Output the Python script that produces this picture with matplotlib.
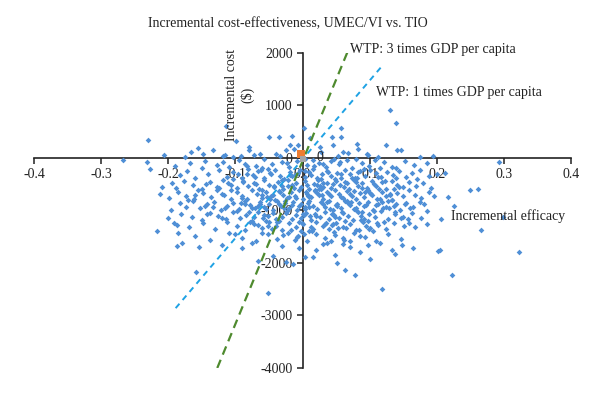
import numpy as np
import matplotlib
matplotlib.use("Agg")
import matplotlib.pyplot as plt

plt.rcParams['font.family'] = ['Liberation Serif', 'DejaVu Serif']

# simulated incremental efficacy / cost pairs
eff = [
    # above zero
    -0.230, -0.114, -0.099, -0.155, -0.133, -0.166, -0.149, -0.118, -0.115, -0.104,
    -0.080, -0.079, -0.072, -0.063, -0.050, -0.035, -0.015, -0.019, -0.025, -0.012,
    -0.007, -0.040, -0.033, 0.130, 0.140, 0.058, 0.002, 0.044, 0.058, 0.046,
    0.081, 0.082, 0.124, 0.141, 0.146, 0.194, 0.026, 0.096, 0.097, 0.028,
    0.060, 0.068, 0.053, 0.011, -0.268, -0.207, -0.175, -0.092, 0.112, 0.175,
    # 0 to -200
    -0.231, -0.168, -0.190, -0.145, -0.128, -0.110, -0.095, -0.085, -0.070, -0.058,
    -0.045, -0.030, -0.020, -0.008, 0.006, 0.015, 0.024, 0.035, 0.042, 0.055,
    0.066, 0.074, 0.088, 0.099, 0.108, 0.121, 0.133, 0.152, 0.166, 0.185,
    0.212, -0.060, 0.004, 0.047, 0.292, -0.150, 0.080, -0.118, 0.030, 0.140,
    # -200 to -400
    -0.227, -0.183, -0.172, -0.160, -0.141, -0.125, -0.112, -0.103, -0.090, -0.081,
    -0.074, -0.066, -0.058, -0.049, -0.041, -0.033, -0.027, -0.019, -0.011, -0.004,
    0.003, 0.009, 0.016, 0.022, 0.029, 0.036, 0.043, 0.051, 0.058, 0.064,
    0.071, 0.078, 0.086, 0.093, 0.101, 0.109, 0.117, 0.126, 0.135, 0.144,
    0.154, 0.163, 0.175, 0.188, 0.201, -0.096, 0.012, 0.048, 0.083, -0.052,
    # -400 to -600
    -0.209, -0.195, -0.188, -0.176, -0.163, -0.150, -0.138, -0.127, -0.118, -0.106,
    -0.098, -0.089, -0.081, -0.073, -0.065, -0.058, -0.050, -0.043, -0.036, -0.029,
    -0.022, -0.015, -0.009, -0.002, 0.004, 0.010, 0.017, 0.023, 0.030, 0.037,
    0.043, 0.050, 0.056, 0.063, 0.069, 0.076, 0.082, 0.089, 0.096, 0.103,
    0.110, 0.118, 0.125, 0.133, 0.141, 0.150, 0.159, 0.169, 0.180, 0.192,
    -0.070, -0.031, 0.007, 0.045, 0.079, 0.114, -0.111, -0.144, 0.027, 0.062,
    # -600 to -800
    -0.213, -0.199, -0.186, -0.173, -0.161, -0.149, -0.137, -0.127, -0.117, -0.107,
    -0.098, -0.090, -0.082, -0.075, -0.068, -0.061, -0.054, -0.047, -0.041, -0.035,
    -0.029, -0.023, -0.017, -0.011, -0.005, 0.001, 0.007, 0.013, 0.019, 0.025,
    0.031, 0.037, 0.043, 0.049, 0.055, 0.061, 0.067, 0.073, 0.079, 0.085,
    0.091, 0.097, 0.104, 0.111, 0.118, 0.125, 0.133, 0.141, 0.149, 0.158,
    0.167, 0.177, 0.188, 0.216, 0.250, 0.262, -0.060, 0.010, 0.070, -0.120,
    0.040, -0.020, 0.100, 0.130, -0.090, -0.044, 0.022, 0.058, -0.160, 0.005,
    # -800 to -1000
    -0.196, -0.183, -0.173, -0.163, -0.152, -0.142, -0.132, -0.122, -0.112, -0.103,
    -0.094, -0.086, -0.078, -0.071, -0.064, -0.057, -0.050, -0.044, -0.038, -0.032,
    -0.026, -0.020, -0.014, -0.008, -0.002, 0.004, 0.010, 0.016, 0.022, 0.028,
    0.034, 0.040, 0.046, 0.052, 0.058, 0.064, 0.070, 0.077, 0.084, 0.091,
    0.098, 0.105, 0.112, 0.120, 0.128, 0.136, 0.145, 0.154, 0.164, 0.175,
    0.185, 0.226, -0.115, -0.067, -0.005, 0.030, 0.068, 0.110, 0.140, -0.145,
    0.080, 0.008, -0.035, 0.050, -0.085, 0.125, -0.015, 0.160, -0.055, 0.095,
    # -1000 to -1200
    -0.200, -0.191, -0.181, -0.165, -0.150, -0.138, -0.126, -0.114, -0.103, -0.093,
    -0.084, -0.075, -0.067, -0.059, -0.051, -0.044, -0.037, -0.030, -0.023, -0.016,
    -0.009, -0.002, 0.005, 0.012, 0.019, 0.026, 0.033, 0.040, 0.047, 0.054,
    0.061, 0.068, 0.075, 0.083, 0.091, 0.099, 0.108, 0.117, 0.127, 0.138,
    0.150, 0.163, 0.177, 0.206, -0.072, 0.000, 0.044, 0.087, -0.120, 0.020,
    # -1200 to -1400
    -0.217, -0.187, -0.169, -0.148, -0.130, -0.113, -0.098, -0.085, -0.072, -0.061,
    -0.050, -0.040, -0.030, -0.020, -0.010, 0.000, 0.010, 0.020, 0.030, 0.040,
    0.050, 0.060, 0.070, 0.080, 0.090, 0.101, 0.112, 0.124, 0.137, 0.151,
    0.167, 0.266, -0.035, 0.015, 0.065, -0.078, 0.105, 0.035, -0.005, 0.185,
    # -1400 to -1600
    -0.160, -0.138, -0.110, -0.090, -0.070, -0.052, -0.038, -0.022, -0.008, 0.006,
    0.020, 0.034, 0.048, 0.062, 0.077, 0.093, 0.110, 0.128, 0.146, -0.185,
    0.042, -0.060, 0.085, 0.002, -0.100,
    # -1600 to -2000
    -0.187, -0.180, -0.154, -0.120, -0.090, -0.066, -0.044, -0.024, -0.014, 0.004,
    0.016, 0.048, 0.052, 0.086, 0.101, 0.098, 0.133, 0.138, 0.148, 0.164,
    0.202, 0.205, 0.030, -0.030, 0.070, 0.115, -0.005, 0.060, -0.075, 0.020,
    # tail
    -0.158, -0.052, 0.064, 0.078, 0.119, 0.222, 0.322, 0.298,
    # dense core
    -0.088, -0.061, -0.047, -0.026, -0.013, 0.008, 0.031, 0.052, 0.074, 0.093,
    0.115, -0.104, -0.079, -0.053, -0.038, -0.018, 0.002, 0.024, 0.046, 0.067,
    0.087, 0.106, 0.129, -0.066, -0.042, -0.028, -0.006, 0.013, 0.037, 0.059,
    0.081, 0.102, 0.121, 0.143, -0.092, -0.057, -0.034, -0.017, 0.004, 0.027,
    0.049, 0.072, 0.094, 0.113, 0.134, -0.076, -0.045, -0.021, -0.001, 0.018,
    0.041, 0.063, 0.088, 0.107, 0.131, 0.152, -0.083, -0.055, -0.031, -0.010,
    0.011, 0.033, 0.057, 0.079, 0.099, 0.123, 0.147, -0.107, -0.064, -0.039,
    -0.016, 0.009, 0.029, 0.053, 0.076, 0.097, 0.119, 0.139, -0.097, -0.071,
    -0.049, -0.024, -0.003, 0.021, 0.044, 0.066, 0.089, 0.111, 0.136, 0.157,
    -0.124, -0.134, -0.171, -0.156, -0.143, 0.171, 0.181, 0.158, 0.196, 0.138,
    -0.007, 0.014, 0.036, 0.061, 0.084, -0.029, -0.052, -0.011, 0.047, 0.071,
    -0.082, -0.062, 0.017, 0.038, 0.091, 0.116, -0.023, 0.003, 0.056, 0.026,
]
cost = [
    343, 615, 324, 190, 152, 108, 70, 45, 55, 20,
    210, 160, 55, 80, 400, 400, 425, 248, 150, 180,
    250, 70, 40, 914, 660, 566, 570, 406, 406, 248,
    260, 171, 248, 152, 160, 44, 216, 76, 50, 110,
    120, 90, 30, 380, -38, 57, 20, 35, 25, 15,
    -70, -90, -150, -60, -130, -175, -40, -110, -160, -25,
    -120, -80, -180, -60, -140, -30, -95, -170, -55, -120,
    -45, -185, -100, -150, -35, -80, -165, -60, -130, -95,
    -280, -195, -20, -10, -82, -190, -15, -70, -110, -190,
    -210, -324, -250, -380, -300, -230, -355, -270, -390, -215,
    -330, -255, -380, -290, -225, -345, -395, -260, -320, -230,
    -360, -270, -215, -390, -300, -245, -350, -280, -375, -220,
    -310, -385, -255, -335, -235, -295, -360, -260, -320, -240,
    -370, -290, -225, -340, -300, -310, -330, -395, -270, -210,
    -546, -470, -572, -430, -520, -590, -455, -545, -410, -505,
    -580, -440, -530, -470, -595, -415, -505, -560, -450, -585,
    -420, -515, -470, -560, -440, -590, -500, -425, -545, -470,
    -580, -435, -520, -465, -590, -410, -540, -480, -565, -445,
    -525, -460, -585, -430, -510, -560, -450, -535, -480, -575,
    -500, -540, -510, -495, -455, -600, -470, -495, -590, -545,
    -690, -760, -640, -720, -790, -660, -745, -615, -700, -775,
    -640, -720, -790, -610, -690, -760, -650, -730, -800, -620,
    -700, -770, -640, -720, -610, -785, -680, -745, -620, -705,
    -780, -650, -725, -605, -690, -760, -635, -715, -790, -660,
    -740, -615, -700, -775, -645, -720, -795, -665, -730, -610,
    -700, -770, -650, -750, -610, -597, -705, -730, -690, -680,
    -690, -745, -660, -700, -755, -700, -660, -740, -700, -640,
    -990, -860, -930, -820, -960, -880, -840, -990, -910, -850,
    -970, -815, -900, -960, -840, -930, -870, -990, -820, -910,
    -860, -950, -830, -985, -880, -940, -815, -905, -970, -845,
    -925, -810, -990, -870, -945, -825, -900, -975, -850, -920,
    -835, -985, -880, -950, -820, -910, -990, -860, -935, -845,
    -1010, -908, -950, -905, -920, -880, -860, -900, -870, -910,
    -960, -850, -870, -900, -880, -940, -900, -960, -975, -890,
    -1150, -1230, -1060, -1130, -1190, -1040, -1110, -1170, -1020, -1140,
    -1080, -1195, -1030, -1150, -1100, -1050, -1180, -1120, -1010, -1160,
    -1090, -1140, -1040, -1190, -1070, -1130, -1020, -1170, -1090, -1145,
    -1050, -1110, -1185, -1030, -1155, -1075, -1125, -1010, -1170, -1060,
    -1120, -1040, -1150, -1160, -1120, -1060, -1060, -1100, -1140, -1110,
    -1385, -1276, -1310, -1240, -1350, -1210, -1300, -1380, -1250, -1330,
    -1220, -1290, -1370, -1240, -1320, -1260, -1390, -1215, -1300, -1350,
    -1230, -1310, -1260, -1380, -1220, -1330, -1270, -1360, -1240, -1300,
    -1310, -1378, -1205, -1345, -1340, -1210, -1390, -1240, -1210, -1250,
    -1480, -1560, -1430, -1520, -1590, -1450, -1540, -1420, -1500, -1580,
    -1440, -1520, -1460, -1570, -1430, -1510, -1590, -1450, -1540, -1420,
    -1580, -1420, -1480, -1440, -1450,
    -1670, -1625, -1690, -1650, -1720, -1960, -1860, -1975, -2010, -1880,
    -1880, -1850, -1995, -1800, -1925, -1650, -1750, -1835, -1660, -1710,
    -1770, -1750, -1640, -1680, -1700, -1620, -1720, -1640, -1610, -1760,
    -2180, -2570, -2140, -2235, -2490, -2235, -1785, -1118,
    -455, -612, -303, -823, -567, -718, -469, -905, -388, -641,
    -772, -392, -1033, -748, -1213, -333, -1078, -592, -1256, -822,
    -1184, -498, -951, -1273, -532, -961, -277, -1318, -847, -1032,
    -376, -689, -1215, -558, -852, -1089, -643, -1367, -973, -406,
    -1124, -836, -1287, -358, -797, -947, -1352, -532, -1236, -618,
    -965, -1193, -563, -1004, -677, -876, -297, -1207, -418, -755,
    -1097, -1263, -309, -997, -1358, -442, -1141, -602, -868, -1166,
    -341, -924, -713, -1337, -624, -1197, -836, -378, -1006, -364,
    -786, -1052, -1383, -523, -1271, -482, -1028, -1237, -592, -1153,
    -573, -938, -806, -612, -1068, -398, -883, -1243, -715, -1032,
    -1483, -1392, -1612, -1518, -1366, -1462, -1304, -1556, -1416, -1574,
    -161, -229, -143, -262, -214, -186, -98, -248, -72, -533,
]

# base case / mean markers at the origin
base_eff, base_cost = [-0.003], [70]
mean_eff, mean_cost = [0.001], [-20]

# willingness-to-pay threshold lines
wtp3_eff, wtp3_cost = [-0.127, 0.068], [-4000, 2050]
wtp1_eff, wtp1_cost = [-0.189, 0.117], [-2860, 1730]

x_ticks = [-0.4, -0.3, -0.2, -0.1, 0.0, 0.1, 0.2, 0.3, 0.4]
y_ticks = [-4000, -3000, -2000, -1000, 0, 1000, 2000]

fig = plt.figure(figsize=(6.0, 3.94), dpi=100)
ax = fig.add_axes([0.0567, 0.066, 0.895, 0.7995])

ax.plot(eff, cost, 'D', color='#4F8FD6', markersize=2.9, markeredgewidth=0, zorder=3)
ax.plot(wtp3_eff, wtp3_cost, '--', color='#4E8A2E', lw=1.6, dashes=(4, 2.5), zorder=4)
ax.plot(wtp1_eff, wtp1_cost, '--', color='#1FA2E4', lw=1.4, dashes=(3, 2.5), zorder=4)
ax.plot(base_eff, base_cost, 's', color='#ED7D31', markersize=6, markeredgewidth=0, zorder=5)
ax.plot(mean_eff, mean_cost, 's', color='#A5A5A5', markersize=5, markeredgewidth=0, zorder=5)

ax.set_xlim(-0.4, 0.4)
ax.set_ylim(-4000, 2000)
ax.spines['left'].set_position('zero')
ax.spines['bottom'].set_position('zero')
ax.spines['top'].set_visible(False)
ax.spines['right'].set_visible(False)
for s in ('left', 'bottom'):
    ax.spines[s].set_color('#222222')
    ax.spines[s].set_linewidth(1.2)
ax.set_xticks(x_ticks)
ax.set_xticklabels(['%.1f' % v for v in x_ticks])
ax.set_yticks(y_ticks)
ax.set_yticklabels([str(v) for v in y_ticks])
ax.tick_params(direction='out', length=4, width=1.1, color='#222222',
               labelsize=10, labelcolor='#222222', pad=3)

fig.text(0.48, 0.94, 'Incremental cost-effectiveness, UMEC/VI vs. TIO',
         ha='center', va='center', fontsize=10, color='#222222')
ax.text(-0.093, 1200, 'Incremental cost\n($)', rotation=90, ha='center',
        va='center', fontsize=10, color='#222222', linespacing=1.2)
ax.text(0.221, -1105, 'Incremental efficacy', ha='left', va='center',
        fontsize=10, color='#222222')
ax.text(0.071, 2075, 'WTP: 3 times GDP per capita', ha='left', va='center',
        fontsize=10, color='#222222')
ax.text(0.110, 1257, 'WTP: 1 times GDP per capita', ha='left', va='center',
        fontsize=10, color='#222222')
ax.text(0.026, 0, '0', ha='center', va='center', fontsize=10, color='#222222')

fig.savefig('out.png', dpi=100)
